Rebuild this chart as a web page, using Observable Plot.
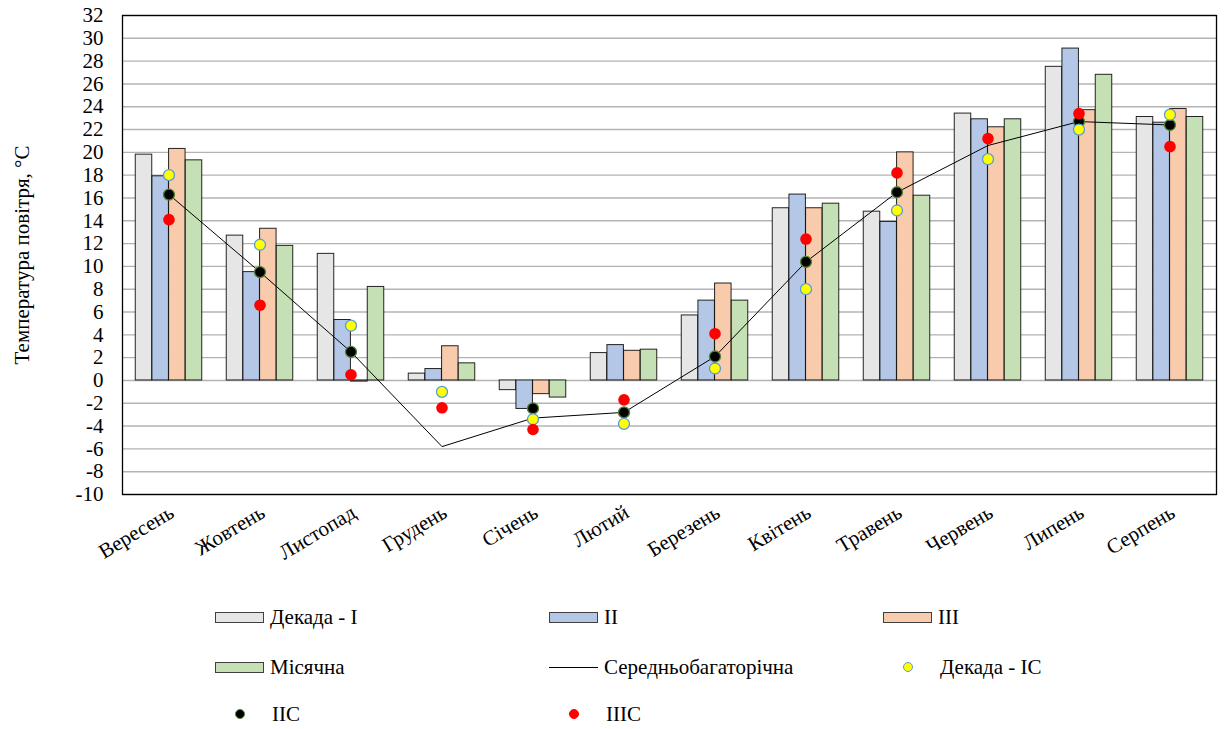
<!DOCTYPE html>
<html>
<head>
<meta charset="utf-8">
<script src="https://cdn.jsdelivr.net/npm/d3@7"></script>
<script src="https://cdn.jsdelivr.net/npm/@observablehq/plot@0.6"></script>
<style>
  html, body { margin: 0; padding: 0; background: #fff; }
  body { width: 1226px; height: 729px; position: relative; font-family: "Liberation Serif", "DejaVu Serif", serif; overflow: hidden; }
  #chart { position: absolute; left: 0; top: 0; }
  .legend { position: absolute; left: 0; top: 0; width: 1226px; height: 729px; pointer-events: none; }
  .item { position: absolute; display: flex; align-items: center; font-size: 21px; color: #000; height: 24px; }
  .sw { width: 49px; height: 11px; border: 1px solid #404040; box-sizing: border-box; margin-right: 6px; }
  .ln { width: 49px; height: 0; border-top: 1px solid #000; margin-right: 6px; }
  .dotbox { width: 49px; margin-right: 8px; display: flex; justify-content: center; }
  .dt { width: 10px; height: 10px; border-radius: 50%; box-sizing: border-box; }
</style>
</head>
<body>
<div id="chart"></div>
<div class="legend" id="legend"></div>
<script>
// ---- data ----
const months = ["Вересень","Жовтень","Листопад","Грудень","Січень","Лютий","Березень","Квітень","Травень","Червень","Липень","Серпень"];
const decadeI   = [19.8, 12.7, 11.1, 0.6, -0.85, 2.4, 5.7, 15.1, 14.8, 23.4, 27.5, 23.1];
const decadeII  = [17.9, 9.5, 5.3, 1.0, -2.5, 3.1, 7.0, 16.3, 13.9, 22.9, 29.1, 22.6];
const decadeIII = [20.3, 13.3, -0.1, 3.0, -1.2, 2.6, 8.5, 15.1, 20.0, 22.2, 23.7, 23.8];
const monthly   = [19.3, 11.8, 8.2, 1.5, -1.5, 2.7, 7.0, 15.5, 16.2, 22.9, 26.8, 23.1];
const multiYear = [16.3, 9.5, 2.5, -5.8, -3.3, -2.8, 2.1, 10.4, 16.5, 20.6, 22.7, 22.4];
const decadeIC  = [18.0, 11.9, 4.8, -1.0, -3.4, -3.8, 1.05, 8.0, 14.9, 19.4, 22.0, 23.3];
const decadeIIC = [16.3, 9.5, 2.5, null, -2.45, -2.8, 2.1, 10.4, 16.5, null, 22.7, 22.4];
const decadeIIIC= [14.1, 6.6, 0.5, -2.4, -4.3, -1.7, 4.1, 12.4, 18.2, 21.2, 23.4, 20.5];
const yTicks = d3.range(-10, 33, 2);
const seriesNames = ["Декада - I", "II", "III", "Місячна"];
const seriesColors = ["#e7e6e6", "#b4c7e7", "#f8cbad", "#c5e0b4"];
const barSeries = [decadeI, decadeII, decadeIII, monthly];

// ---- layout ----
const W = 1226, H = 600;
const mL = 122, mR = 10, mT = 15, mB = H - 494;
const band = (W - mL - mR) / months.length;
const barW = band * 0.1828;
const outer = (band - 4 * barW) / 2;
const FONT = '"Liberation Serif", "DejaVu Serif", serif';

const toRows = arr => months.map((m, i) => ({month: m, value: arr[i]})).filter(d => d.value != null);

const marks = [
  Plot.ruleY(yTicks, {stroke: "#b3b3b3", strokeWidth: 1.4}),
];
barSeries.forEach((arr, i) => {
  const left = outer + i * barW;
  marks.push(Plot.barY(toRows(arr), {
    x: "month", y: "value",
    fill: seriesColors[i], stroke: "#000", strokeWidth: 1, strokeOpacity: 0.85,
    insetLeft: left, insetRight: band - left - barW
  }));
});
marks.push(
  Plot.frame({stroke: "#000", strokeWidth: 1.3}),
  Plot.line(toRows(multiYear), {x: "month", y: "value", stroke: "#000", strokeWidth: 1}),
  Plot.dot(toRows(decadeIIC), {x: "month", y: "value", r: 5.5, fill: "#000", stroke: "#548235", strokeWidth: 1.3}),
  Plot.dot(toRows(decadeIC), {x: "month", y: "value", r: 5.5, fill: "#ffff00", stroke: "#5b9bd5", strokeWidth: 1.3}),
  Plot.dot(toRows(decadeIIIC), {x: "month", y: "value", r: 5.8, fill: "#ff0000", stroke: "none"}),
  Plot.axisY({ticks: yTicks, tickFormat: d => String(d), tickSize: 0, tickPadding: 19, fontSize: 21, fontFamily: FONT,
    label: "Температура повітря, °С", labelAnchor: "center", labelArrow: "none", labelOffset: 108}),
  Plot.axisX({tickSize: 0, tickPadding: 16, tickRotate: -31, fontSize: 21, fontFamily: FONT, label: null, dx: 3})
);

const chart = Plot.plot({
  width: W, height: H,
  marginLeft: mL, marginRight: mR, marginTop: mT, marginBottom: mB,
  style: {fontFamily: FONT, fontSize: "21px", color: "#000", background: "#fff"},
  x: {type: "band", domain: months, padding: 0},
  y: {domain: [-10, 32]},
  marks
});
document.getElementById("chart").appendChild(chart);

// ---- legend ----
const legendItems = [
  {label: seriesNames[0], kind: "sw", color: seriesColors[0], col: 0, row: 0},
  {label: seriesNames[1], kind: "sw", color: seriesColors[1], col: 1, row: 0},
  {label: seriesNames[2], kind: "sw", color: seriesColors[2], col: 2, row: 0},
  {label: seriesNames[3], kind: "sw", color: seriesColors[3], col: 0, row: 1},
  {label: "Середньобагаторічна", kind: "ln", col: 1, row: 1},
  {label: "Декада - ІС", kind: "dot", color: "#ffff00", stroke: "#5b9bd5", col: 2, row: 1},
  {label: "ІІС", kind: "dot", color: "#000", stroke: "#548235", col: 0, row: 2},
  {label: "ІІІС", kind: "dot", color: "#ff0000", stroke: "#ff0000", col: 1, row: 2}
];
const colX = [215, 549, 883], rowY = [617, 667, 714];
const leg = document.getElementById("legend");
legendItems.forEach(it => {
  const d = document.createElement("div");
  d.className = "item";
  d.style.left = colX[it.col] + "px";
  d.style.top = (rowY[it.row] - 12) + "px";
  let mk;
  if (it.kind === "sw") { mk = document.createElement("div"); mk.className = "sw"; mk.style.background = it.color; }
  else if (it.kind === "ln") { mk = document.createElement("div"); mk.className = "ln"; }
  else {
    mk = document.createElement("div"); mk.className = "dotbox";
    const c = document.createElement("div"); c.className = "dt"; c.style.background = it.color; c.style.border = "1.3px solid " + it.stroke;
    mk.appendChild(c);
  }
  d.appendChild(mk);
  const t = document.createElement("span"); t.textContent = it.label;
  d.appendChild(t);
  leg.appendChild(d);
});
</script>
</body>
</html>
